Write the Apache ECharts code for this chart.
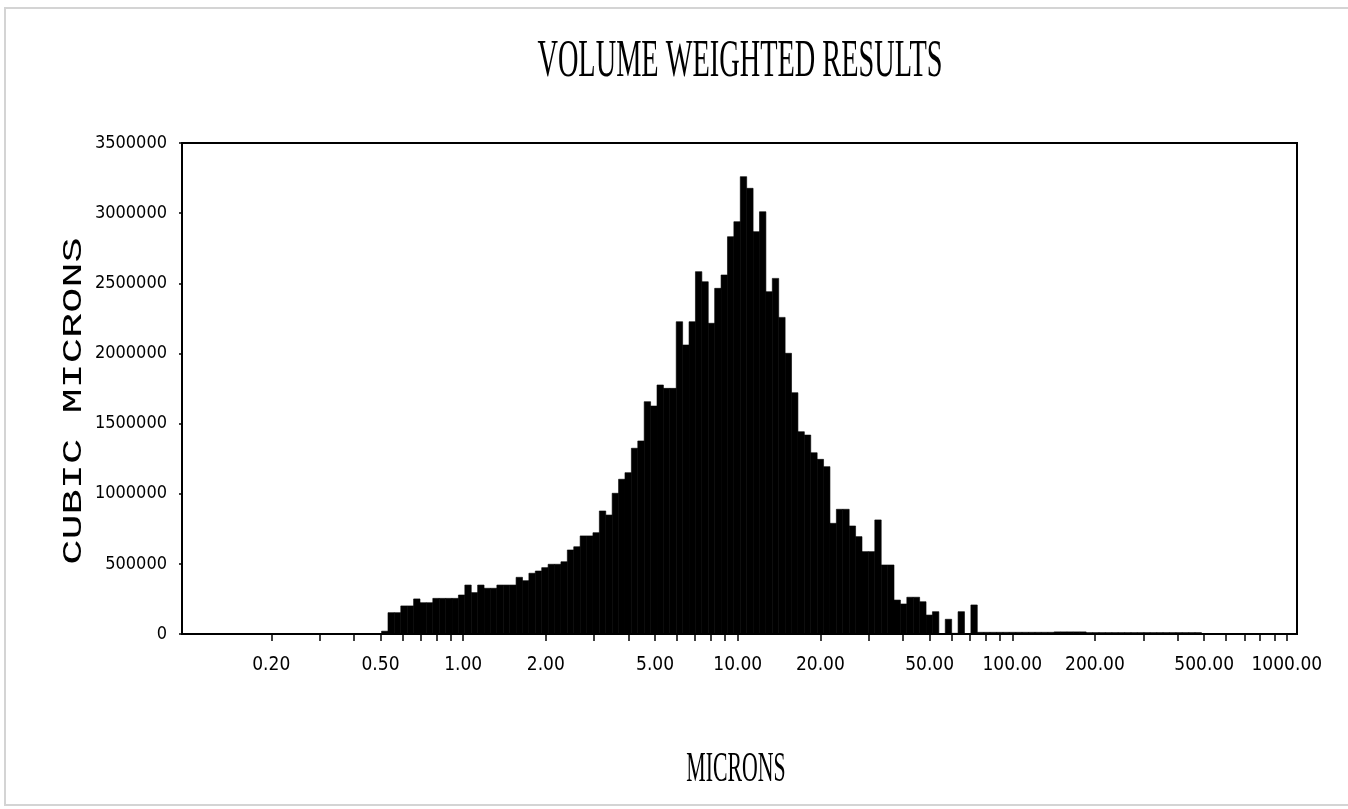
<!DOCTYPE html>
<html>
<head>
<meta charset="utf-8">
<script src="https://cdn.jsdelivr.net/npm/echarts@6/dist/echarts.min.js"></script>
<style>
html,body{margin:0;padding:0;background:#fff;}
#chart{width:1348px;height:809px;}
</style>
</head>
<body>
<div id="chart"></div>
<script>
// ---- data ----
const chartTitle = 'VOLUME WEIGHTED RESULTS';
const xAxisName = 'MICRONS';
const yAxisName = 'CUBIC MICRONS';
// log-spaced histogram bins from binLowMicrons to binHighMicrons
const binLowMicrons = 0.5044;
const binHighMicrons = 488.8;
// cubic microns per bin
const volumes = [
  20000, 152000, 152000, 200000, 200000, 250000, 223000, 223000, 254000, 254000,
  254000, 254000, 278000, 349000, 295000, 349000, 326000, 326000, 349000, 349000,
  349000, 404000, 380000, 433000, 449000, 473000, 497000, 497000, 515000, 599000,
  622000, 699000, 699000, 722000, 877000, 848000, 1003000, 1103000, 1150000, 1324000,
  1376000, 1656000, 1625000, 1775000, 1751000, 1751000, 2226000, 2060000, 2226000, 2583000,
  2511000, 2215000, 2464000, 2559000, 2832000, 2939000, 3260000, 3177000, 2868000, 3010000,
  2440000, 2535000, 2257000, 2001000, 1720000, 1442000, 1418000, 1292000, 1245000, 1193000,
  789000, 889000, 889000, 770000, 694000, 587000, 587000, 813000, 492000, 492000,
  242000, 214000, 262000, 262000, 230000, 135000, 159000, 0, 105000, 5000,
  159000, 0, 207000,
  12000, 12000, 12000, 12000, 12000, 12000, 12000, 12000, 12000, 12000,
  12000, 12000, 15000, 15000, 15000, 15000, 15000, 10000, 10000, 10000,
  10000, 10000, 10000, 10000, 10000, 10000, 10000, 10000, 10000, 10000,
  10000, 10000, 10000, 10000, 10000
];
const xAxisMinMicrons = 0.0946;
const xAxisMaxMicrons = 1089;
const xLabelValues = [0.2, 0.5, 1, 2, 5, 10, 20, 50, 100, 200, 500, 1000];
const xTickValues = [
  0.2, 0.3, 0.4, 0.5, 0.6, 0.7, 0.8, 0.9,
  1, 2, 3, 4, 5, 6, 7, 8, 9,
  10, 20, 30, 40, 50, 60, 70, 80, 90,
  100, 200, 300, 400, 500, 600, 700, 800, 900, 1000
];
const yMax = 3500000;
const yInterval = 500000;

// ---- build ----
const logLo = Math.log10(binLowMicrons);
const logHi = Math.log10(binHighMicrons);
const step = (logHi - logLo) / volumes.length;
const barData = volumes.map((v, i) => [logLo + i * step, logLo + (i + 1) * step, v]);

const chart = echarts.init(document.getElementById('chart'), null, {renderer: 'canvas'});
const labelFont = '"Liberation Sans Narrow", "DejaVu Sans Condensed", sans-serif';
const serifFont = '"Liberation Serif", "DejaVu Serif", serif';

chart.setOption({
  animation: false,
  backgroundColor: '#fff',
  grid: {
    left: 182, right: 51, top: 143, bottom: 175,
    show: true, borderColor: '#000', borderWidth: 2, backgroundColor: 'transparent'
  },
  xAxis: {
    type: 'value',
    min: Math.log10(xAxisMinMicrons),
    max: Math.log10(xAxisMaxMicrons),
    axisLine: {show: true, onZero: false, lineStyle: {color: '#000', width: 2}},
    splitLine: {show: false},
    axisTick: {
      show: true, length: 7, lineStyle: {color: '#000', width: 1.5},
      customValues: xTickValues.map(v => Math.log10(v))
    },
    axisLabel: {
      customValues: xLabelValues.map(v => Math.log10(v)),
      formatter: v => Math.pow(10, v).toFixed(2),
      fontFamily: labelFont, fontSize: 19, color: '#000', margin: 22
    }
  },
  yAxis: {
    type: 'value',
    min: 0, max: yMax, interval: yInterval,
    axisLine: {show: true, onZero: false, lineStyle: {color: '#000', width: 2}},
    splitLine: {show: false},
    axisTick: {show: true, length: 3, lineStyle: {color: '#000', width: 1.5}},
    axisLabel: {
      formatter: v => String(v),
      fontFamily: labelFont, fontSize: 18, color: '#000', margin: 15
    }
  },
  graphic: [
    {
      type: 'rect', silent: true, z: -1,
      shape: {x: 5, y: 8, width: 1360, height: 797},
      style: {fill: 'none', stroke: '#d4d4d4', lineWidth: 2}
    },
    {
      type: 'text', x: 740, y: 62, scaleX: 0.545,
      style: {text: chartTitle, font: '52px ' + serifFont, fill: '#000', textAlign: 'center', textVerticalAlign: 'middle'}
    },
    {
      type: 'text', x: 736, y: 770, scaleX: 0.52,
      style: {text: xAxisName, font: '42px ' + serifFont, fill: '#000', textAlign: 'center', textVerticalAlign: 'middle'}
    },
    {
      type: 'text', x: 74, y: 401, rotation: Math.PI / 2, scaleX: 1.5,
      style: {text: yAxisName, font: '28px "Liberation Mono", "DejaVu Sans Mono", monospace', fill: '#000', textAlign: 'center', textVerticalAlign: 'middle'}
    }
  ],
  series: [{
    type: 'custom',
    name: 'Volume',
    encode: {x: [0, 1], y: 2},
    data: barData,
    renderItem: function (params, api) {
      const p0 = api.coord([api.value(0), api.value(2)]);
      const p1 = api.coord([api.value(1), 0]);
      return {
        type: 'rect',
        shape: {x: p0[0], y: p0[1], width: p1[0] - p0[0], height: p1[1] - p0[1]},
        style: {fill: '#000', stroke: '#000', lineWidth: 0.6}
      };
    }
  }]
});
</script>
</body>
</html>
